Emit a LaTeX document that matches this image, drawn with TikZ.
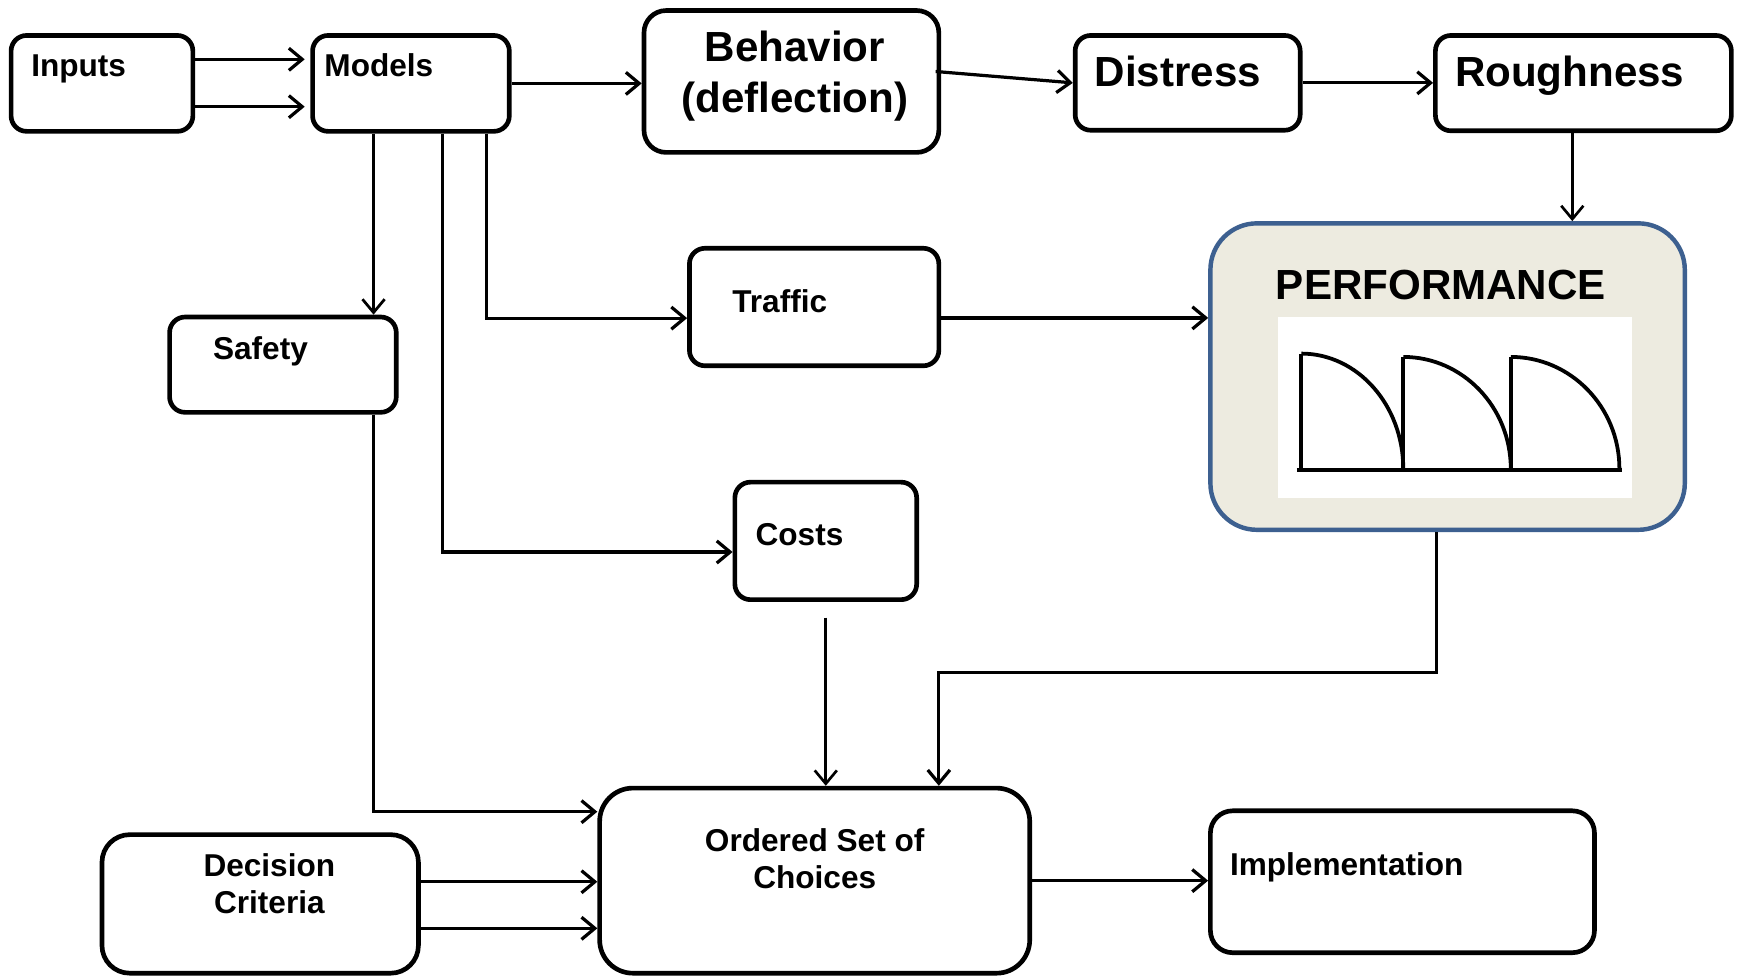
\documentclass[tikz,border=0pt]{standalone}
\usepackage{fontspec}
\setmainfont{Liberation Sans}
\usetikzlibrary{arrows.meta}
\definecolor{perfblue}{HTML}{3D6090}
\definecolor{perffill}{HTML}{EDEBE0}
\begin{document}
\begin{tikzpicture}[x=1pt,y=-1pt,
  box/.style={draw=black, line width=4.2pt, rounded corners=14pt, inner sep=0pt, fill=white},
  arr/.style={line width=2.9pt, -{Straight Barb[length=12pt,width=20pt]}},
  curve/.style={line width=3.4pt, black},
  small/.style={font=\bfseries\fontsize{28.5}{33.5}\selectfont, inner sep=0pt},
  big/.style={font=\bfseries\fontsize{38}{46}\selectfont, inner sep=0pt},
]
\useasboundingbox[fill=white] (0,0) rectangle (1568,880);

% boxes
\node[box, minimum width=164pt, minimum height=86.5pt] (inputs) at (92,75.25) {};
\node[box, minimum width=177.5pt, minimum height=86.5pt] (models) at (370.75,75.25) {};
\node[box, rounded corners=20pt, minimum width=266pt, minimum height=128pt] (behavior) at (714,73.5) {};
\node[box, minimum width=203pt, minimum height=85.5pt] (distress) at (1071.5,74.75) {};
\node[box, minimum width=267pt, minimum height=86pt] (roughness) at (1428.5,75) {};
\node[draw=perfblue, fill=perffill, line width=4pt, rounded corners=42pt, inner sep=0pt,
      minimum width=428pt, minimum height=276.5pt] (performance) at (1306,339.75) {};
\node[fill=white, inner sep=0pt, minimum width=319pt, minimum height=163pt] (chart) at (1312.5,367.5) {};
\node[box, minimum width=225pt, minimum height=106pt] (traffic) at (734.5,277) {};
\node[box, minimum width=204.5pt, minimum height=86pt] (safety) at (255.25,329) {};
\node[box, minimum width=164pt, minimum height=106pt] (costs) at (745,488) {};
\node[box, rounded corners=30pt, minimum width=388pt, minimum height=167pt] (ordered) at (735,794.5) {};
\node[box, rounded corners=25pt, minimum width=285.5pt, minimum height=125pt] (decision) at (234.75,815.5) {};
\node[box, rounded corners=20pt, minimum width=346.5pt, minimum height=128pt] (implementation) at (1265.25,795.5) {};

% texts
\node[small, anchor=base west] (tinputs) at (28,69) {Inputs};
\node[small, anchor=base west] (tmodels) at (292.5,69) {Models};
\node[big, anchor=base, align=center] (tbehavior) at (717,101.6) {Behavior\\(deflection)};
\node[big, anchor=base west] (tdistress) at (987.5,77.6) {Distress};
\node[big, anchor=base west] (troughness) at (1312.5,77.6) {Roughness};
\node[big, anchor=base] (tperformance) at (1300,270) {PERFORMANCE};
\node[small, anchor=base west] (ttraffic) at (660.5,281.5) {Traffic};
\node[small, anchor=base west] (tsafety) at (192,324) {Safety};
\node[small, anchor=base west] (tcosts) at (681.5,492) {Costs};
\node[small, anchor=base, align=center] (tordered) at (735,802) {Ordered Set of\\Choices};
\node[small, anchor=base, align=center] (tdecision) at (243,824) {Decision\\Criteria};
\node[small, anchor=base west] (timplementation) at (1109.5,789.5) {Implementation};

% performance chart
\draw[curve] (1170,424) -- (1463,424);
\draw[curve] (1174,424) -- (1174,319);
\draw[curve] (1266,424) -- (1266,322);
\draw[curve] (1363,424) -- (1363,322);
\draw[curve] (1174,319) arc[start angle=90, end angle=0, x radius=92pt, y radius=104pt];
\draw[curve] (1266,322) arc[start angle=90, end angle=0, x radius=97pt, y radius=101pt];
\draw[curve] (1363,322) arc[start angle=90, end angle=0, x radius=98pt, y radius=101pt];

% connectors
\draw[arr, shorten >=5pt] ([yshift=21.75pt]inputs.east) -- ([yshift=21.75pt]models.west);
\draw[arr, shorten >=5pt] ([yshift=-21pt]inputs.east) -- ([yshift=-21pt]models.west);
\draw[arr] (models.east) -- (models.east -| behavior.west);
\draw[arr] ([xshift=-5pt,yshift=9pt]behavior.east) -- (distress.west);
\draw[arr] (distress.east) -- (distress.east -| roughness.west);
\draw[arr, line width=2.4pt] ([xshift=-10pt]roughness.south) -- ([xshift=-10pt]roughness.south |- performance.north);
\draw[arr, line width=2.5pt] ([xshift=-33.75pt]models.south) -- ([xshift=-33.75pt]models.south |- safety.north);
\draw[arr] ([xshift=68.25pt]models.south) |- ([yshift=-10pt]traffic.west);
\draw[arr] ([yshift=-9.8pt]traffic.east) -- ([yshift=-9.8pt]traffic.east -| performance.west);
\draw[arr] ([xshift=28.25pt]models.south) |- ([yshift=-10pt]costs.west);
\draw[arr, line width=2.4pt] ([yshift=-14pt]costs.south) -- (costs.south |- ordered.north);
\draw[arr] ([xshift=-10pt]performance.south) -- ++(0,127) -| ([xshift=112pt]ordered.north);
\draw[arr] ([xshift=81.75pt]safety.south) |- ([yshift=62.2pt]ordered.west);
\draw[arr] ([yshift=20pt]decision.east) -- ([yshift=20pt]decision.east -| ordered.west);
\draw[arr] ([yshift=-22pt]decision.east) -- ([yshift=-22pt]decision.east -| ordered.west);
\draw[arr] (ordered.east) -- (ordered.east -| implementation.west);
\end{tikzpicture}
\end{document}
